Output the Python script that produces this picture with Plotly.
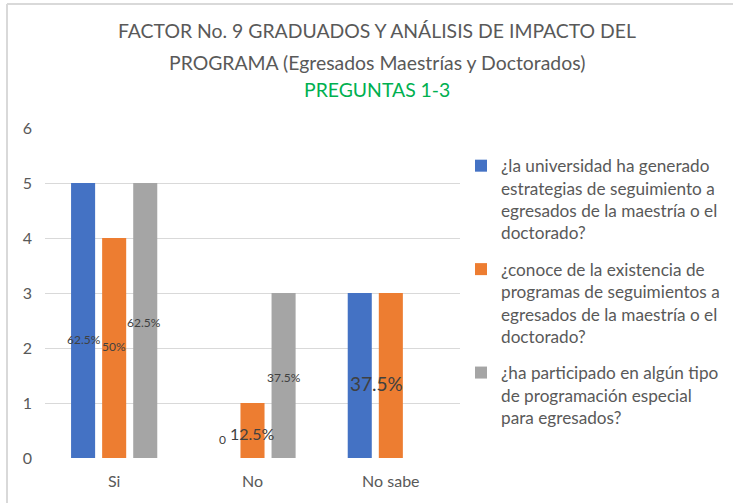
import plotly.graph_objects as go

categories = ["Si", "No", "No sabe"]
series_names = [
    "¿la universidad ha generado<br>estrategias de seguimiento a<br>egresados de la maestría o el<br>doctorado?",
    "¿conoce de la existencia de<br>programas de seguimientos a<br>egresados de la maestría o el<br>doctorado?",
    "¿ha participado en algún tipo<br>de programación especial<br>para egresados?",
]
values_q1 = [5, 0, 3]
values_q2 = [4, 1, 3]
values_q3 = [5, 3, None]
colors = ["#4472C4", "#ED7D31", "#A5A5A5"]

# data labels: (category, text, y position, x pixel shift, font size)
label_text = ["62.5%", "50%", "62.5%", "0", "12.5%", "37.5%", "37.5%"]
label_cat = ["Si", "Si", "Si", "No", "No", "No", "No sabe"]
label_y = [2.15, 2.02, 2.47, 0.33, 0.44, 1.47, 1.35]
label_shift = [-30, 0, 30, -30, 0, 31, -14]
label_size = [12, 12, 12, 12, 16, 12, 19]

W, H = 733, 503
ML, MR, MT, MB = 45, 0, 128, 45
PW = W - ML - MR          # paper width in px
PH = H - MT - MB


def px_x(p):
    return (p - ML) / PW


def px_y(p):
    return (H - MB - p) / PH


fig = go.Figure()
for name, vals, col in zip(series_names, [values_q1, values_q2, values_q3], colors):
    fig.add_trace(go.Bar(x=categories, y=vals, name=name, marker_color=col,
                         marker_line_width=0, legendgroup=name))

for t, c, y, s, fs in zip(label_text, label_cat, label_y, label_shift, label_size):
    fig.add_annotation(x=c, y=y, xref="x", yref="y", text=t, showarrow=False,
                       xshift=s, font=dict(size=fs, color="#404040", family="Lato"))

title_lines = ["FACTOR No. 9 GRADUADOS Y ANÁLISIS DE IMPACTO DEL",
               "PROGRAMA (Egresados Maestrías y Doctorados)",
               "PREGUNTAS 1-3"]
title_px_y = [30, 62, 90]
title_col = ["#595959", "#595959", "#00B050"]
for t, y, c in zip(title_lines, title_px_y, title_col):
    fig.add_annotation(x=px_x(377), y=px_y(y), xref="paper", yref="paper", text=t,
                       showarrow=False, xanchor="center", yanchor="middle",
                       font=dict(size=19.4, color=c, family="Lato"))

# chart frame (top and left edges visible)
fig.add_shape(type="line", xref="paper", yref="paper", x0=px_x(7), x1=1.2,
              y0=px_y(4), y1=px_y(4), line=dict(color="#D9D9D9", width=2))
fig.add_shape(type="line", xref="paper", yref="paper", x0=px_x(7), x1=px_x(7),
              y0=-1, y1=px_y(4), line=dict(color="#D9D9D9", width=2))

fig.update_layout(
    width=W, height=H,
    margin=dict(l=ML, r=MR, t=MT, b=MB, autoexpand=False),
    paper_bgcolor="white", plot_bgcolor="white",
    barmode="group", bargap=0.326, bargroupgap=0.226,
    font=dict(family="Lato", color="#595959"),
    legend=dict(x=px_x(461), y=px_y(148), xanchor="left", yanchor="top", valign="top",
                font=dict(size=17.2, color="#595959"), tracegroupgap=11,
                itemwidth=30, bgcolor="rgba(0,0,0,0)"),
    showlegend=True,
)
fig.update_xaxes(domain=[0, 415 / PW], showgrid=False, showline=False, ticks="",
                 ticklabelstandoff=12, tickfont=dict(size=16, color="#595959"))
fig.update_yaxes(range=[0, 6], dtick=1, showgrid=True, gridcolor="#D9D9D9", gridwidth=1,
                 zeroline=False, showline=False, ticks="", ticklabelstandoff=12,
                 tickfont=dict(size=16, color="#595959"))

fig.write_html("out.html", config={"displayModeBar": False},
               post_script="document.body.style.margin='0';")
